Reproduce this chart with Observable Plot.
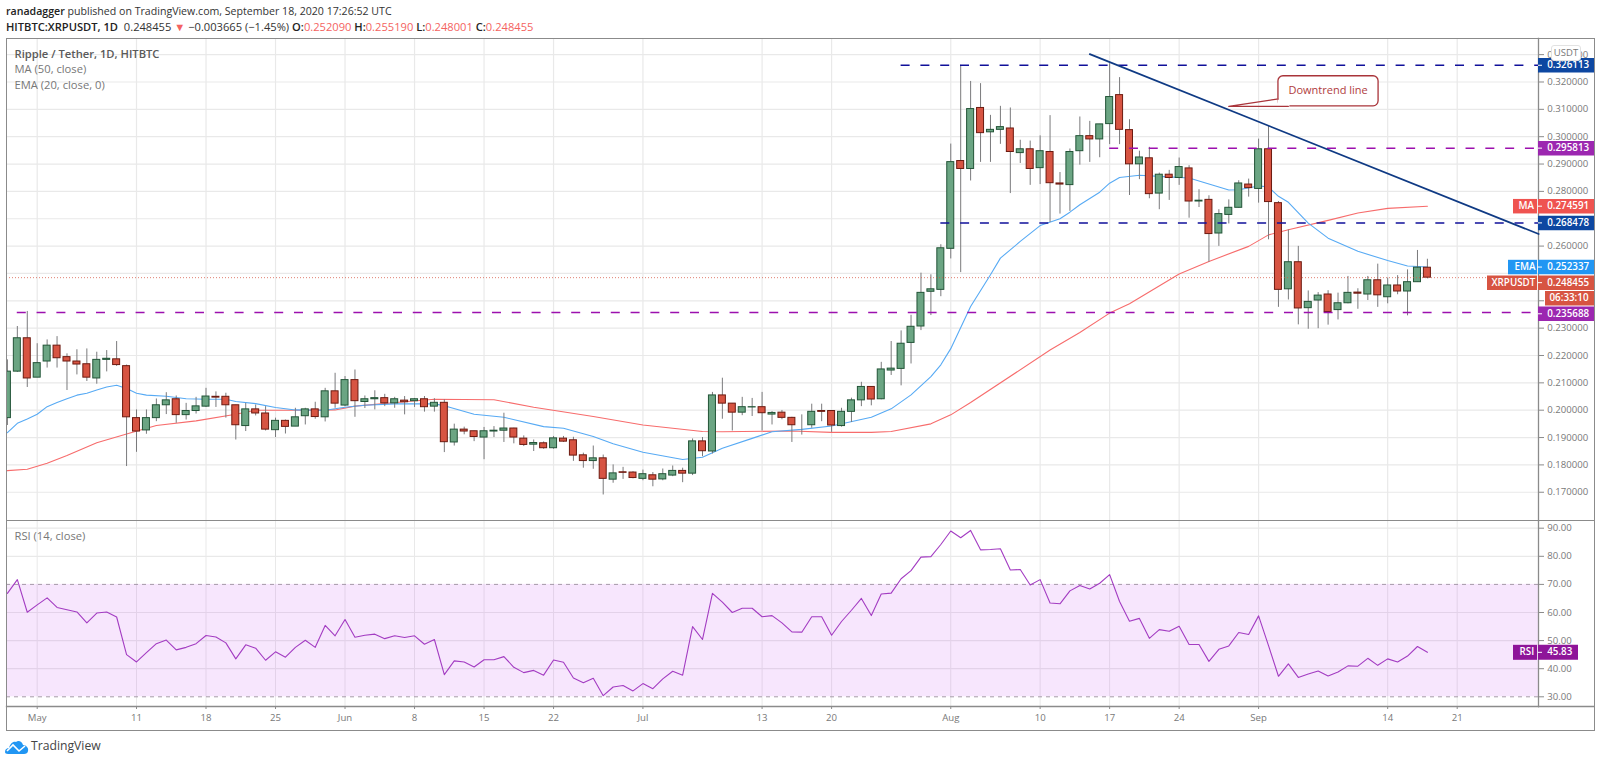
<!DOCTYPE html>
<html>
<head>
<meta charset="utf-8">
<script src="https://cdn.jsdelivr.net/npm/d3@7"></script>
<script src="https://cdn.jsdelivr.net/npm/@observablehq/plot@0.6"></script>
<style>
html,body{margin:0;padding:0;background:#fff;overflow:hidden}
#page{position:relative;width:1600px;height:763px;font-family:"Open Sans",sans-serif}
#header{height:38px;position:relative;font-size:10.6px;color:#333}
#header div{position:absolute;left:6px;white-space:nowrap;line-height:14px}
#header b{color:#222;font-weight:600}
#header .r{color:#f4635f}
#footer{height:33px;position:relative}
#footer span{position:absolute;left:31px;top:9px;font-size:12.2px;color:#444;line-height:14px}
#footer svg{position:absolute;left:5px;top:10px}
#box{position:absolute;left:5.5px;top:38px;width:1587.5px;height:691px;border:1.3px solid #8b8b8b;pointer-events:none}
#sep{position:absolute;left:6px;top:519.5px;width:1588px;height:0;border-top:1.3px solid #8b8b8b;pointer-events:none}
#unit{position:absolute;left:1551px;top:45px;width:30px;height:16px;box-sizing:border-box;background:#fff;border:1px solid #e2e2e2;border-radius:3px;font-size:9.5px;line-height:14px;text-align:center;color:#777}
#charts svg{display:block}
</style>
</head>
<body>
<div id="page">
  <div id="header">
    <div style="top:4px"><b>ranadagger</b> published on TradingView.com, September 18, 2020 17:26:52 UTC</div>
    <div style="top:20px;font-size:11.15px"><b>HITBTC:XRPUSDT, 1D</b>&nbsp; 0.248455 <span class="r">▼</span> −0.003665 (−1.45%) <b>O:</b><span class="r">0.252090</span> <b>H:</b><span class="r">0.255190</span> <b>L:</b><span class="r">0.248001</span> <b>C:</b><span class="r">0.248455</span></div>
  </div>
  <div id="charts"></div>
  <div id="footer">
    <svg width="24" height="14" viewBox="0 0 24 14"><path d="M0 12 C0 9 2 8 4 8 C5 4 8 1 11 2 C13 0 17 1 18 5 C21 5 24 8 23 11 C23 13 21 14 19 14 L3 14 C1 14 0 13 0 12Z" fill="#2196f3"/><path d="M2 11 L8 5 L14 11 L20 6" fill="none" stroke="#fff" stroke-width="1.6"/></svg>
    <span>TradingView</span>
  </div>
  <div id="box"></div>
  <div id="sep"></div>
  <div id="unit">USDT</div>
</div>
<script>
// ---------- candle data: 2020-04-28 .. 2020-09-18 ----------
const startDay = "2020-04-28";
const endDay = "2020-09-19";
const opens = [
.1971,.2141,.2263,
.2119,.2178,.2236,.2194,.2178,.2168,.2116,.2184,.2186,.2161,.1971,.1926,.1971,.2018,.2040,.1982,.1997,.2013,.2049,.2049,.2018,.1942,.2003,.1988,.1927,.1961,.1940,.1978,.2003,.1974,.2069,
.2017,.2110,.2030,.2040,.2044,.2025,.2035,.2033,.2040,.2013,.2027,.1882,.1929,.1923,.1900,.1922,.1925,.1933,.1896,.1874,.1879,.1861,.1896,.1890,.1835,.1814,.1824,.1746,.1773,.1772,
.1749,.1762,.1747,.1761,.1778,.1768,.1886,.1849,.2054,.2024,.1991,.2010,.2011,.1984,.1991,.1972,.1945,.1945,.1997,.1997,.1942,.1994,.2036,.2085,.2040,.2145,.2151,.2246,.2306,.2433,.2440,
.2590,.2911,.2882,.3105,.3016,.3025,.3030,.2940,.2954,.2885,.2944,.2829,.2823,.2947,.3002,.2990,.3046,.3152,.3024,.2899,.2921,.2792,.2861,.2849,.2884,.2763,.2769,.2646,.2714,.2740,.2825,
.2809,.2954,.2757,.2442,.2541,.2373,.2401,.2423,.2366,.2391,.2430,.2423,.2475,.2413,.2456,.2434,.2468,.25209];
const highs = [
.2184,.2306,.2361,
.2243,.2257,.2269,.2206,.2221,.2224,.2212,.2218,.2251,.2165,.2001,.2001,.2041,.2064,.2052,.2025,.2047,.2080,.2067,.2062,.2018,.2025,.2019,.2013,.1971,.1964,.2007,.2007,.2029,.2080,.2135,
.2123,.2147,.2052,.2071,.2058,.2047,.2050,.2043,.2050,.2042,.2038,.1949,.1938,.1923,.1937,.1940,.1989,.1934,.1906,.1891,.1884,.1904,.1904,.1901,.1843,.1869,.1836,.1800,.1791,.1775,
.1781,.1772,.1785,.1796,.1788,.1895,.1900,.2065,.2117,.2024,.2047,.2043,.2065,.1995,.1999,.1974,.1983,.2022,.2022,.1999,.2007,.2044,.2102,.2086,.2175,.2251,.2290,.2347,.2501,.2495,.2605,
.2973,.3261,.3202,.3194,.3078,.3111,.3105,.2987,.2984,.3003,.3077,.2869,.2955,.3072,.3056,.3045,.3267,.3216,.3062,.2947,.2961,.2867,.2877,.2922,.2894,.2806,.2784,.2733,.2769,.2839,.2845,
.2991,.3040,.2763,.2659,.2599,.2436,.2430,.2437,.2428,.2489,.2444,.2489,.2534,.2483,.2492,.2513,.2584,.25519];
const lows = [
.1944,.2138,.2083,
.2119,.2154,.2154,.2072,.2129,.2105,.2095,.2140,.2160,.1794,.1846,.1912,.1958,.1984,.1952,.1964,.1986,.2010,.2010,.1971,.1891,.1922,.1979,.1924,.1900,.1913,.1940,.1946,.1967,.1957,.2007,
.2013,.1974,.2006,.2001,.2013,.2007,.1983,.2010,.1993,.1993,.1845,.1869,.1910,.1885,.1819,.1900,.1882,.1877,.1867,.1849,.1857,.1857,.1882,.1813,.1788,.1784,.1690,.1733,.1747,.1749,
.1742,.1720,.1742,.1757,.1735,.1761,.1830,.1840,.1967,.1924,.1980,.1977,.1924,.1946,.1965,.1882,.1909,.1934,.1958,.1919,.1938,.1955,.2013,.2016,.2038,.2127,.2089,.2169,.2291,.2346,.2415,
.2553,.2503,.2838,.2906,.2906,.2972,.2792,.2902,.2822,.2825,.2686,.2717,.2727,.2896,.2906,.2923,.2971,.2971,.2785,.2843,.2773,.2733,.2767,.2822,.2702,.2741,.2541,.2599,.2681,.2739,.2779,
.2757,.2623,.2376,.2403,.2312,.2296,.2298,.2311,.2330,.2389,.2369,.2401,.2376,.2389,.2422,.2345,.2468,.248001];
const closes = [
.2141,.2263,.2116,
.2172,.2236,.2190,.2178,.2167,.2119,.2184,.2188,.2165,.1974,.1922,.1971,.2018,.2036,.1982,.1997,.2014,.2050,.2046,.2018,.1945,.2003,.1988,.1929,.1961,.1939,.1974,.2003,.1975,.2069,.2024,
.2110,.2033,.2040,.2044,.2025,.2040,.2029,.2040,.2011,.2027,.1883,.1929,.1922,.1902,.1923,.1925,.1933,.1900,.1873,.1880,.1861,.1897,.1885,.1834,.1814,.1824,.1749,.1769,.1771,.1752,
.1766,.1746,.1766,.1778,.1768,.1886,.1850,.2054,.2024,.1991,.2011,.2011,.1989,.1990,.1972,.1945,.1945,.1994,.1994,.1944,.1994,.2036,.2085,.2039,.2149,.2152,.2243,.2305,.2429,.2442,.2592,
.2907,.2882,.3101,.3013,.3025,.3035,.2944,.2954,.2882,.2947,.2830,.2825,.2944,.3002,.2990,.3045,.3145,.3025,.2899,.2924,.2790,.2861,.2849,.2889,.2763,.2766,.2644,.2717,.2740,.2829,.2812,
.2954,.2761,.2440,.2541,.2372,.2396,.2419,.2359,.2391,.2429,.2426,.2475,.2420,.2456,.2434,.2468,.2521,.248455];
const rsiValues = [
66.8,71.7,60.1,62.7,65.2,61.8,61.0,60.2,56.3,59.8,60.2,58.4,45.0,42.4,45.7,48.9,50.2,46.7,47.6,48.9,51.8,51.3,49.2,43.5,48.5,47.3,43.0,46.0,44.1,47.6,50.1,47.6,55.4,51.7,57.5,51.2,51.9,52.3,50.7,51.7,51.1,51.7,48.7,50.4,37.9,42.8,42.4,40.6,43.2,43.2,44.3,40.5,38.6,39.4,37.7,43.1,42.3,36.7,35.0,36.6,30.4,33.5,34.0,32.1,34.7,32.9,36.4,39.1,37.7,55.0,50.4,66.8,63.7,60.0,61.5,61.5,58.5,58.9,56.3,53.1,53.0,58.5,58.5,51.9,56.8,60.8,65.0,58.9,66.6,66.9,72.0,74.9,79.7,79.9,84.2,89.0,86.6,89.2,82.3,82.4,82.7,75.1,75.3,69.8,71.7,63.4,63.1,67.7,69.6,68.4,70.4,73.5,63.9,56.9,57.9,50.8,53.9,53.3,55.1,48.6,48.6,42.6,46.9,48.1,52.9,52.2,58.8,48.2,37.3,41.7,36.9,38.1,39.2,37.4,38.8,41.0,40.9,43.7,41.2,43.5,42.4,44.5,47.9,45.83];

// ---------- moving averages ----------
const emaDates = ["2020-04-28","2020-04-29","2020-04-30","2020-05-01","2020-05-02","2020-05-03","2020-05-04","2020-05-05","2020-05-06","2020-05-07","2020-05-08","2020-05-09","2020-05-10","2020-05-11","2020-05-12","2020-05-14","2020-05-16","2020-05-18","2020-05-20","2020-05-21","2020-05-23","2020-05-25","2020-05-27","2020-05-30","2020-06-01","2020-06-03","2020-06-06","2020-06-10","2020-06-11","2020-06-14","2020-06-17","2020-06-21","2020-06-23","2020-06-26","2020-06-28","2020-07-01","2020-07-05","2020-07-07","2020-07-09","2020-07-12","2020-07-14","2020-07-17","2020-07-20","2020-07-24","2020-07-26","2020-07-28","2020-07-30","2020-07-31","2020-08-01","2020-08-03","2020-08-05","2020-08-06","2020-08-08","2020-08-10","2020-08-12","2020-08-13","2020-08-14","2020-08-16","2020-08-17","2020-08-18","2020-08-20","2020-08-22","2020-08-25","2020-08-27","2020-08-29","2020-08-30","2020-09-01","2020-09-02","2020-09-03","2020-09-04","2020-09-06","2020-09-08","2020-09-11","2020-09-14","2020-09-16","2020-09-18"];
const emaValues = [.1918,.1952,.1968,.1985,.2013,.2028,.2042,.2055,.2062,.2074,.2085,.2091,.2079,.2062,.2055,.2051,.2042,.2040,.2040,.2032,.2024,.2010,.2001,.2000,.2011,.2018,.2023,.2023,.2016,.1985,.1974,.1940,.1934,.1904,.1877,.1846,.1820,.1828,.1861,.1897,.1921,.1930,.1942,.1974,.2005,.2056,.2123,.2166,.2225,.2379,.2495,.2556,.2617,.2675,.2700,.2724,.2751,.2797,.2830,.2851,.2859,.2855,.2849,.2827,.2805,.2806,.2820,.2816,.2782,.2760,.2684,.2629,.2581,.2547,.2527,.252337];
const maDates = ["2020-04-28","2020-04-30","2020-05-02","2020-05-04","2020-05-07","2020-05-10","2020-05-13","2020-05-17","2020-05-21","2020-05-23","2020-05-28","2020-05-31","2020-06-02","2020-06-07","2020-06-10","2020-06-16","2020-06-20","2020-06-26","2020-07-01","2020-07-07","2020-07-09","2020-07-16","2020-07-20","2020-07-24","2020-07-26","2020-07-30","2020-08-01","2020-08-03","2020-08-11","2020-08-14","2020-08-17","2020-08-19","2020-08-24","2020-08-27","2020-08-31","2020-09-02","2020-09-04","2020-09-08","2020-09-11","2020-09-14","2020-09-18"];
const maValues = [.1779,.1784,.1806,.1834,.1881,.1913,.1944,.1961,.1985,.2000,.2000,.2001,.2015,.2031,.2040,.2038,.2011,.1977,.1946,.1922,.1921,.1924,.1919,.1919,.1922,.1950,.1983,.2028,.2220,.2284,.2355,.2389,.2498,.2544,.2599,.2641,.2660,.2694,.2721,.2738,.274591];

// ---------- drawings ----------
const levelValues = [.326113,.295813,.268478,.235688];
const levelStarts = ["2020-07-27","2020-08-17","2020-07-31","2020-04-27"];
const trendDates = ["2020-08-15","2020-09-29T05:00Z"];
const trendValues = [.3302,.2644];
const calloutText = "Downtrend line";

// ---------- axis ticks ----------
const priceTicks = [.17,.18,.19,.20,.21,.22,.23,.24,.25,.26,.27,.28,.29,.30,.31,.32,.33];
const coveredPriceLabels = [.24,.25,.27];   // these sit wholly under a scale tag in the reference
const rsiTicks = [30,40,50,60,70,80,90];
const timeTicks = ["2020-05-01","2020-05-11","2020-05-18","2020-05-25","2020-06-01","2020-06-08","2020-06-15","2020-06-22","2020-07-01","2020-07-13","2020-07-20","2020-08-01","2020-08-10","2020-08-17","2020-08-24","2020-09-01","2020-09-14","2020-09-21"];

// ---------- tags on the scales ----------
const tagNames = ["MA","EMA"];
const tagValues = [.274591,.252337];
const lastPrice = .248455;
const lastRsi = 45.83;
const countdown = "06:33:10";

// ---------- layout helpers ----------
const may1 = Date.UTC(2020,4,1), dayPx = 9.93, may1Px = 36.7;
const pxDate = px => new Date(may1 + (px - may1Px) / dayPx * 864e5);
const axisPx = 1538, edgePx = 1594;
const paneLeft = pxDate(6), paneRight = pxDate(axisPx), edge = pxDate(edgePx);
const halfBody = 3.5 / dayPx * 864e5;

const days = d3.utcDay.range(new Date(startDay), new Date(endDay));
const candles = days.map((date,i)=>({date,open:opens[i],high:highs[i],low:lows[i],close:closes[i],rsi:rsiValues[i]}));
const up = candles.filter(d=>d.close>=d.open), down = candles.filter(d=>d.close<d.open);
const zipSeries = (ds,vs)=>ds.map((d,i)=>({date:new Date(d),value:vs[i]}));
const ema = zipSeries(emaDates,emaValues), ma = zipSeries(maDates,maValues);
const levels = levelValues.map((value,i)=>({value,start:new Date(levelStarts[i]),navy:i===0||i===2}));
const trend = zipSeries(trendDates,trendValues);
const tTicks = timeTicks.map(d=>new Date(d));

const GRID="#e9e9e9", TXT="#787878", AXIS="#8b8b8b", NAVY="#0d47a1", DASHNAVY="#10109a", PURPLE="#9c27b0", DASHPURPLE="#9c10ae";
const FONT='"Open Sans",sans-serif', LABEL=9.6, LEGEND=11.2;

const body = (data,fill,stroke)=>Plot.rect(data,{x1:d=>new Date(+d.date-halfBody),x2:d=>new Date(+d.date+halfBody),y1:d=>Math.min(d.open,d.close),y2:d=>Math.max(d.open,d.close),fill,stroke,strokeWidth:1,clip:true});

// tag helper: a thick rule behind text, in the right margin
const tagBox = (y,color,fromPx,toPx,dy=0,h=14.5)=>Plot.ruleY([y],{x1:pxDate(fromPx),x2:pxDate(toPx),stroke:color,strokeWidth:h,dy});
const tagTxt = (y,text,dy=0,dx=8.7,weight=600)=>Plot.text([y],{y:d=>d,text:()=>text,frameAnchor:"right",textAnchor:"start",dx,dy,fill:"#fff",fontSize:LABEL+.2,fontWeight:weight});
const tagNub = (y,dy=0)=>Plot.ruleY([y],{x1:paneRight,x2:pxDate(axisPx+4),stroke:"#fff",strokeWidth:1,dy});
const valueTag = (y,color,dy=0,right=edgePx)=>[tagBox(y,color,axisPx,right,dy),tagNub(y,dy),tagTxt(y,y.toFixed(6),dy)];

const main = Plot.plot({
  width:1600,height:482,marginLeft:6,marginRight:62,marginTop:0,marginBottom:0,
  style:{fontFamily:FONT,fontSize:LABEL+"px",background:"transparent",color:TXT,overflow:"visible"},
  x:{type:"utc",domain:[paneLeft,paneRight],axis:null},
  y:{domain:[.15967,.3359]},
  marks:[
    Plot.gridY(priceTicks,{stroke:GRID,strokeOpacity:1,strokeWidth:1.2}),
    Plot.gridX(tTicks,{stroke:GRID,strokeOpacity:1,strokeWidth:1.2}),
    Plot.axisY(priceTicks,{anchor:"right",tickSize:5,tickPadding:3.7,tickFormat:d=>coveredPriceLabels.includes(d)?"":d3.format(".6f")(d),label:null,stroke:AXIS,fill:TXT,fontSize:LABEL}),
    Plot.frame({anchor:"right",stroke:AXIS,strokeWidth:1.3}),
    Plot.line(ma,{x:"date",y:"value",stroke:"#f76c6c",strokeWidth:1.1,clip:true}),
    Plot.line(ema,{x:"date",y:"value",stroke:"#57aaf4",strokeWidth:1.1,clip:true}),
    Plot.ruleX(candles,{x:"date",y1:"low",y2:"high",stroke:"#7a7a7c",strokeWidth:1,clip:true}),
    body(up,"#6ba583","#225437"),
    body(down,"#d75442","#6c1a10"),
    Plot.ruleY([lastPrice],{x1:paneLeft,x2:paneRight,stroke:"#d75442",strokeOpacity:.75,strokeWidth:1,strokeDasharray:"1 2"}),
    Plot.ruleY(levels,{filter:d=>d.navy,y:"value",x1:"start",x2:paneRight,stroke:DASHNAVY,strokeWidth:1.5,strokeDasharray:"9 10.8",clip:true}),
    Plot.ruleY(levels,{filter:d=>!d.navy,y:"value",x1:"start",x2:paneRight,stroke:DASHPURPLE,strokeWidth:1.5,strokeDasharray:"9 10.8",clip:true}),
    Plot.line(trend,{x:"date",y:"value",stroke:"#0f3a84",strokeWidth:1.7}),
    // callout
    Plot.rect([{x1:new Date("2020-09-03"),x2:new Date("2020-09-13T02:00Z"),y1:.3111,y2:.3221}],{x1:"x1",x2:"x2",y1:"y1",y2:"y2",fill:"#fff",stroke:"#a9343a",strokeWidth:1.3,r:5}),
    Plot.line([{d:"2020-09-03",v:.3111},{d:"2020-09-03",v:.3138},{d:"2020-09-04",v:.3138},{d:"2020-09-04",v:.3111}],{x:d=>new Date(d.d),y:"v",fill:"#fff",stroke:"#fff",strokeWidth:2}),
    Plot.line([{d:"2020-09-03",v:.3138},{d:"2020-08-29",v:.3111},{d:"2020-09-04",v:.3111}],{x:d=>new Date(d.d),y:"v",stroke:"#a9343a",strokeWidth:1.3}),
    Plot.text([calloutText],{x:new Date("2020-09-08"),y:.3169,text:d=>d,fill:"#b03c40",fontSize:11}),
    // legend
    Plot.text(["Ripple / Tether, 1D, HITBTC"],{text:d=>d,frameAnchor:"top-left",dx:8,dy:16,lineAnchor:"middle",textAnchor:"start",fill:"#5a5a5a",fontSize:LEGEND,fontWeight:600}),
    Plot.text(["MA (50, close)"],{text:d=>d,frameAnchor:"top-left",dx:8,dy:31,lineAnchor:"middle",textAnchor:"start",fill:"#777",fontSize:LEGEND}),
    Plot.text(["EMA (20, close, 0)"],{text:d=>d,frameAnchor:"top-left",dx:8,dy:47,lineAnchor:"middle",textAnchor:"start",fill:"#777",fontSize:LEGEND}),
    // scale tags
    ...valueTag(levelValues[0],NAVY),
    ...valueTag(levelValues[1],PURPLE),
    ...valueTag(levelValues[2],NAVY),
    tagBox(tagValues[0],"#ef5350",1513,1537),
    tagTxt(tagValues[0],tagNames[0],0,-20,600),
    ...valueTag(tagValues[0],"#ef5350"),
    tagBox(tagValues[1],"#2196f3",1508,1537),
    tagTxt(tagValues[1],tagNames[1],0,-24,600),
    ...valueTag(tagValues[1],"#2196f3"),
    tagBox(lastPrice,"#d75442",1487,1537,5),
    tagTxt(lastPrice,"XRPUSDT",5,-47,600),
    ...valueTag(lastPrice,"#d75442",5),
    tagBox(lastPrice,"#d75442",1545,edgePx,20.5),
    tagTxt(lastPrice,countdown,20.5,11,600),
    ...valueTag(levelValues[3],PURPLE,1.2)
  ]
});

const rsi = Plot.plot({
  width:1600,height:210,marginLeft:6,marginRight:62,marginTop:0,marginBottom:24,
  style:{fontFamily:FONT,fontSize:LABEL+"px",background:"transparent",color:TXT,overflow:"visible"},
  x:{type:"utc",domain:[paneLeft,paneRight]},
  y:{domain:[26.55,92.74]},
  marks:[
    Plot.gridY([40,50,60,80,90],{stroke:GRID,strokeOpacity:1,strokeWidth:1.2}),
    Plot.gridX(tTicks,{stroke:GRID,strokeOpacity:1,strokeWidth:1}),
    Plot.rect([{y1:30,y2:70}],{x1:paneLeft,x2:paneRight,y1:"y1",y2:"y2",fill:"#b71cf0",fillOpacity:.11}),
    Plot.ruleY([30,70],{x1:paneLeft,x2:paneRight,stroke:"#a59aa8",strokeWidth:1,strokeDasharray:"4 4"}),
    Plot.axisY(rsiTicks,{anchor:"right",tickSize:5,tickPadding:3.7,tickFormat:d3.format(".2f"),label:null,stroke:AXIS,fill:TXT,fontSize:LABEL}),
    Plot.axisX(tTicks,{anchor:"bottom",tickSize:3,tickPadding:5,label:null,stroke:AXIS,fill:TXT,fontSize:LABEL,
      tickFormat:d=>d.getUTCDate()===1?d3.utcFormat("%b")(d):String(d.getUTCDate())}),
    Plot.frame({anchor:"right",stroke:AXIS,strokeWidth:1.3}),
    Plot.frame({anchor:"bottom",stroke:AXIS,strokeWidth:1.3}),
    Plot.ruleY([26.55],{x1:paneRight,x2:edge,stroke:AXIS,strokeWidth:1.3}),
    Plot.line(candles,{x:"date",y:"rsi",stroke:"#a33cc2",strokeWidth:1.1,clip:true}),
    Plot.text(["RSI (14, close)"],{text:d=>d,frameAnchor:"top-left",dx:8,dy:15.7,lineAnchor:"middle",textAnchor:"start",fill:"#777",fontSize:LEGEND}),
    Plot.ruleY([lastRsi],{x1:pxDate(1513),x2:pxDate(1537),stroke:"#8e1599",strokeWidth:15}),
    Plot.ruleY([lastRsi],{x1:paneRight,x2:pxDate(1578),stroke:"#8e1599",strokeWidth:15}),
    Plot.ruleY([lastRsi],{x1:paneRight,x2:pxDate(1542),stroke:"#fff",strokeWidth:1}),
    Plot.text([lastRsi],{y:d=>d,text:()=>"RSI",frameAnchor:"right",textAnchor:"start",dx:-19,fill:"#fff",fontSize:LABEL+.2,fontWeight:600}),
    Plot.text([lastRsi],{y:d=>d,text:d=>d.toFixed(2),frameAnchor:"right",textAnchor:"start",dx:8.7,fill:"#fff",fontSize:LABEL+.2,fontWeight:600})
  ]
});

document.getElementById("charts").append(main, rsi);
</script>
</body>
</html>
